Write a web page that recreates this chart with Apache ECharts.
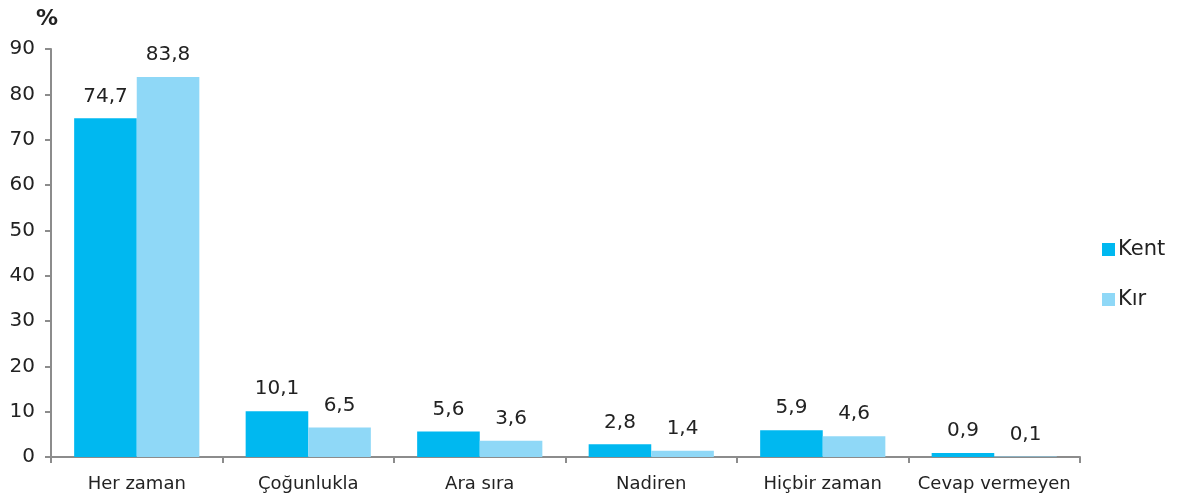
<!DOCTYPE html>
<html>
<head>
<meta charset="utf-8">
<script src="https://cdn.jsdelivr.net/npm/echarts@6/dist/echarts.min.js"></script>
<style>
  html, body { margin: 0; padding: 0; background: #fff; }
  #chart { width: 1178px; height: 501px; }
</style>
</head>
<body>
<div id="chart"></div>
<script>
// answer categories
const categories = ['Her zaman', 'Çoğunlukla', 'Ara sıra', 'Nadiren', 'Hiçbir zaman', 'Cevap vermeyen'];
// percent values, urban and rural
const kent = [74.7, 10.1, 5.6, 2.8, 5.9, 0.9];
const kir = [83.8, 6.5, 3.6, 1.4, 4.6, 0.1];

const font = 'DejaVu Sans';
const fmt = p => String(p.value).replace('.', ',');

const chart = echarts.init(document.getElementById('chart'));
chart.setOption({
  animation: false,
  textStyle: {fontFamily: font},
  title: {
    text: '%',
    left: 31, top: 3,
    textStyle: {fontFamily: font, fontSize: 22, fontWeight: 'bold', color: '#222'}
  },
  grid: {left: 51, right: 98, top: 49, bottom: 44},
  legend: {
    orient: 'vertical',
    left: 1097, top: 234,
    itemWidth: 13, itemHeight: 13, itemGap: 29,
    icon: 'rect',
    textStyle: {fontFamily: font, fontSize: 21, color: '#222', padding: [0, 0, 0, -2]},
    data: ['Kent', 'Kır']
  },
  xAxis: {
    type: 'category',
    data: categories,
    axisLine: {lineStyle: {color: '#8c8c8c', width: 2}},
    axisTick: {show: true, interval: 0, length: 6, lineStyle: {color: '#8c8c8c', width: 2}},
    axisLabel: {interval: 0, fontFamily: font, fontSize: 18, color: '#222', margin: 18}
  },
  yAxis: {
    type: 'value',
    min: 0, max: 90, interval: 10,
    splitLine: {show: false},
    axisLine: {show: true, lineStyle: {color: '#8c8c8c', width: 2}},
    axisTick: {show: true, length: 6, lineStyle: {color: '#8c8c8c', width: 2}},
    axisLabel: {fontFamily: font, fontSize: 20, color: '#222', margin: 16}
  },
  series: [
    {
      name: 'Kent', type: 'bar', data: kent,
      barGap: '0%', barCategoryGap: '27%',
      itemStyle: {color: '#00b8f0'},
      label: {show: true, position: 'top', distance: 12, formatter: fmt,
              fontFamily: font, fontSize: 20, color: '#222'}
    },
    {
      name: 'Kır', type: 'bar', data: kir,
      itemStyle: {color: '#8fd8f7'},
      label: {show: true, position: 'top', distance: 12, formatter: fmt,
              fontFamily: font, fontSize: 20, color: '#222'}
    }
  ]
});
</script>
</body>
</html>
